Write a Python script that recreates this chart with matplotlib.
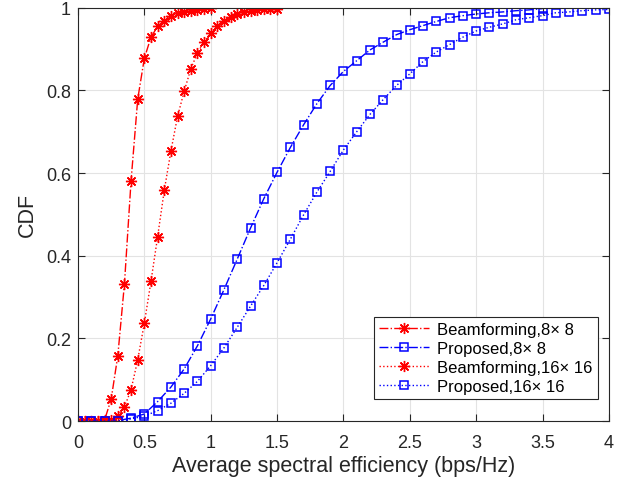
import numpy as np
import matplotlib
matplotlib.use("Agg")
import matplotlib.pyplot as plt

plt.rcParams['font.family'] = ['Liberation Sans', 'DejaVu Sans']

# Beamforming, 8x8 (step 0.05)
bf8_x = np.arange(0, 1.0001, 0.05)
bf8_y = [0, 0, 0, 0, 0.002, 0.053, 0.158, 0.332, 0.582, 0.779, 0.878,
         0.929, 0.955, 0.969, 0.981, 0.988, 0.991, 0.993, 0.995, 0.997, 0.999]

# Beamforming, 16x16 (step 0.05)
bf16_x = np.arange(0, 1.5001, 0.05)
bf16_y = [0, 0, 0, 0, 0, 0.003, 0.013, 0.034, 0.076, 0.148, 0.237,
          0.338, 0.446, 0.558, 0.653, 0.737, 0.798, 0.852, 0.891, 0.917, 0.940,
          0.956, 0.968, 0.977, 0.985, 0.990, 0.992, 0.994, 0.996, 0.997, 0.998]

# Proposed, 8x8 (step 0.1)
pr8_x = np.arange(0, 3.5001, 0.1)
pr8_y = [0, 0, 0, 0.001, 0.007, 0.017, 0.047, 0.082, 0.126, 0.182,
         0.247, 0.318, 0.392, 0.467, 0.538, 0.602, 0.662, 0.717, 0.768, 0.812,
         0.846, 0.872, 0.898, 0.917, 0.935, 0.947, 0.957, 0.967, 0.976, 0.981,
         0.985, 0.988, 0.990, 0.993, 0.995, 0.998]

# Proposed, 16x16 (step 0.1)
pr16_x = np.arange(0, 4.0001, 0.1)
pr16_y = [0, 0, 0, 0, 0.005, 0.012, 0.025, 0.043, 0.067, 0.096,
          0.134, 0.177, 0.227, 0.278, 0.328, 0.383, 0.440, 0.499, 0.554, 0.604,
          0.656, 0.700, 0.742, 0.778, 0.812, 0.840, 0.870, 0.893, 0.911, 0.929,
          0.944, 0.953, 0.961, 0.971, 0.976, 0.981, 0.988, 0.990, 0.993, 0.995,
          0.996]

xticks = [0, 0.5, 1, 1.5, 2, 2.5, 3, 3.5, 4]
xtick_labels = ['0', '0.5', '1', '1.5', '2', '2.5', '3', '3.5', '4']
yticks = [0, 0.2, 0.4, 0.6, 0.8, 1]
ytick_labels = ['0', '0.2', '0.4', '0.6', '0.8', '1']

fig = plt.figure(figsize=(6.29, 4.89), dpi=100)
ax = fig.add_axes([0.124, 0.137, 0.844, 0.845])

star = (8, 2, 0)
ax.plot(bf8_x, bf8_y, color='red', linestyle='-.', lw=1.0, marker=star,
        ms=8, mew=1.0, label='Beamforming,8× 8')
ax.plot(pr8_x, pr8_y, color='blue', linestyle='-.', lw=1.0, marker='s',
        ms=6, mfc='none', mew=1.1, label='Proposed,8× 8')
ax.plot(bf16_x, bf16_y, color='red', linestyle=':', lw=1.0, marker=star,
        ms=8, mew=1.0, label='Beamforming,16× 16')
ax.plot(pr16_x, pr16_y, color='blue', linestyle=':', lw=1.0, marker='s',
        ms=6, mfc='none', mew=1.1, label='Proposed,16× 16')

ax.set_xlim(0, 4)
ax.set_ylim(0, 1)
ax.set_xticks(xticks)
ax.set_xticklabels(xtick_labels)
ax.set_yticks(yticks)
ax.set_yticklabels(ytick_labels)
ax.tick_params(direction='in', length=5, width=0.8, labelsize=13,
               colors='#262626', top=True, right=True)
ax.tick_params(axis='x', pad=9)
ax.tick_params(axis='y', pad=5)
ax.grid(True, color='#e3e3e3', linewidth=0.8)
ax.set_axisbelow(True)
for s in ax.spines.values():
    s.set_color('#262626')
    s.set_linewidth(0.8)

ax.set_xlabel('Average spectral efficiency (bps/Hz)', fontsize=15.5, color='#262626',
              labelpad=3)
ax.set_ylabel('CDF', fontsize=15.5, color='#262626', labelpad=6)

leg = ax.legend(loc='lower right', bbox_to_anchor=(0.979, 0.053), borderaxespad=0,
                fontsize=12, fancybox=False, edgecolor='#262626', framealpha=1,
                handlelength=3.0, labelspacing=0.25, borderpad=0.3, handletextpad=0.5)
leg.get_frame().set_linewidth(0.8)

fig.savefig('out.png', dpi=100)
